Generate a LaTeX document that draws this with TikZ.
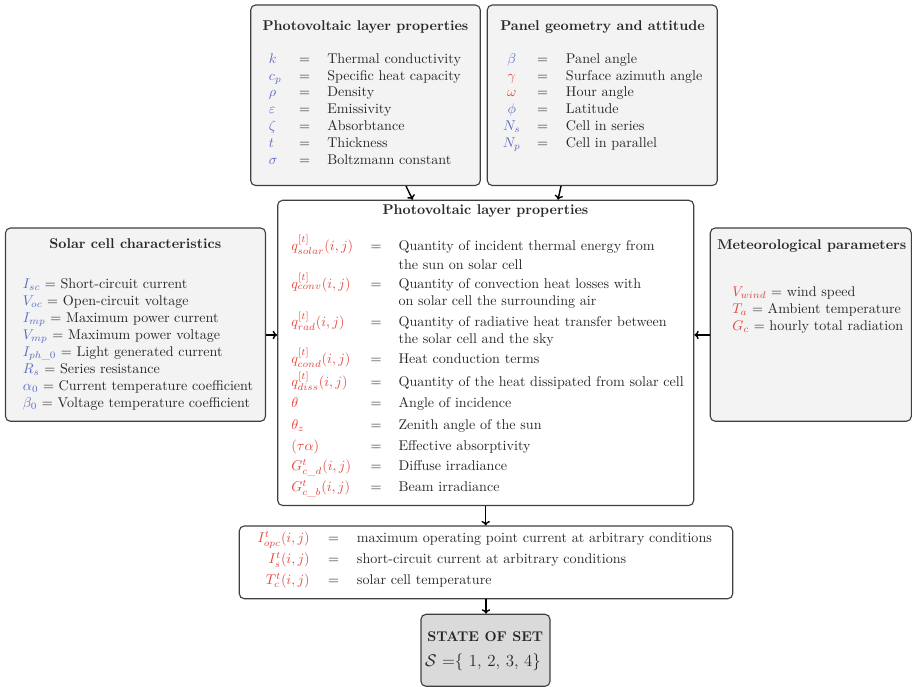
\documentclass[tikz,border=0pt]{standalone}
\usepackage{amsmath}
\usetikzlibrary{fit,arrows.meta}
\definecolor{symblue}{RGB}{92,108,196}
\definecolor{symred}{RGB}{230,70,62}
\definecolor{boxfill}{RGB}{243,243,243}
\definecolor{statefill}{RGB}{218,218,218}
\definecolor{boxline}{RGB}{64,64,64}
\definecolor{txt}{RGB}{40,40,40}
\newcommand{\bsym}[1]{\textcolor{symblue}{$#1$}}
\newcommand{\rsym}[1]{\textcolor{symred}{$#1$}}
\newcommand{\usc}{\text{\_}}
\tikzset{
  box/.style={draw=boxline, line width=0.8pt, rounded corners=3.5pt, inner sep=0pt},
  graybox/.style={box, fill=boxfill},
  whitebox/.style={box, fill=white},
  statebox/.style={box, fill=statefill},
  ttl/.style={font=\bfseries, anchor=base, inner sep=0pt, text=txt},
  lbl/.style={anchor=base west, inner sep=0pt, text=txt},
  lblr/.style={anchor=base east, inner sep=0pt, text=txt},
  lblc/.style={anchor=base, inner sep=0pt, text=txt},
  arr/.style={-{To[length=3.2pt,width=6pt]}, line width=1pt, black}
}
\begin{document}
\begin{tikzpicture}[x=0.709pt,y=-0.709pt]
\useasboundingbox (0,0) rectangle (912,687);

% boxes
\node[graybox, fit={(250.7,5) (480.3,185.5)}] (tl) {};
\node[graybox, fit={(487.3,5) (717.3,185.5)}] (tr) {};
\node[whitebox, fit={(277.7,200.3) (693.7,505.5)}] (ctr) {};
\node[graybox, fit={(5.5,228) (265.5,421.3)}] (lb) {};
\node[graybox, fit={(710.3,228) (911.3,421.3)}] (rb) {};
\node[whitebox, fit={(239.3,526) (732.7,598.7)}] (bot) {};
\node[statebox, fit={(421,614.3) (550,686.3)}] (st) {};

% titles
\node[ttl] (tlT) at (365.5,30.7) {Photovoltaic layer properties};
\node[ttl] (trT) at (602.5,30.7) {Panel geometry and attitude};
\node[ttl] (ctrT) at (485.5,214.3) {Photovoltaic layer properties};
\node[ttl] (lbT) at (135.3,248.7) {Solar cell characteristics};
\node[ttl] (rbT) at (811.8,249.3) {Meteorological parameters};

% top-left rows
\foreach \s/\t [count=\i] in {
  {\bsym{k}}/Thermal conductivity,
  {\bsym{c_p}}/Specific heat capacity,
  {\bsym{\rho}}/Density,
  {\bsym{\varepsilon}}/Emissivity,
  {\bsym{\zeta}}/Absorbtance,
  {\bsym{t}}/Thickness,
  {\bsym{\sigma}}/Boltzmann constant}{
  \node[lbl] (tls\i) at (268.7,{63.3+16.83*(\i-1)}) {\s};
  \node[lblc] (tle\i) at (304.7,{63.3+16.83*(\i-1)}) {$=$};
  \node[lbl] (tlt\i) at (327,{63.3+16.83*(\i-1)}) {\t};
}

% top-right rows
\foreach \s/\t [count=\i] in {
  {\bsym{\beta}}/Panel angle,
  {\rsym{\gamma}}/Surface azimuth angle,
  {\rsym{\omega}}/Hour angle,
  {\bsym{\phi}}/Latitude,
  {\bsym{N_s}}/Cell in series,
  {\bsym{N_p}}/Cell in parallel}{
  \node[lblc] (trs\i) at (511.7,{63.3+16.83*(\i-1)}) {\s};
  \node[lblc] (tre\i) at (542.7,{63.3+16.83*(\i-1)}) {$=$};
  \node[lbl] (trt\i) at (565.7,{63.3+16.83*(\i-1)}) {\t};
}

% center rows
\foreach \s/\t/\y [count=\i] in {
  {\rsym{q^{[t]}_{solar}(i,j)}}/Quantity of incident thermal energy from/250.3,
  {\rsym{q^{[t]}_{conv}(i,j)}}/Quantity of convection heat losses with/288.3,
  {\rsym{q^{[t]}_{rad}(i,j)}}/Quantity of radiative heat transfer between/326.7,
  {\rsym{q^{[t]}_{cond}(i,j)}}/Heat conduction terms/363.3,
  {\rsym{q^{[t]}_{diss}(i,j)}}/Quantity of the heat dissipated from solar cell/386.7,
  {\rsym{\theta}}/Angle of incidence/407.3,
  {\rsym{\theta_z}}/Zenith angle of the sun/429,
  {\rsym{(\tau\alpha)}}/Effective absorptivity/450,
  {\rsym{G^t_{c\usc d}(i,j)}}/Diffuse irradiance/470.7,
  {\rsym{G^t_{c\usc b}(i,j)}}/Beam irradiance/491.7}{
  \node[lbl] (cs\i) at (291,\y) {\s};
  \node[lblc] (ce\i) at (376,\y) {$=$};
  \node[lbl] (ct\i) at (398.3,\y) {\t};
}
\node[lbl] (ct1b) at (398.3,270) {the sun on solar cell};
\node[lbl] (ct2b) at (398.3,305) {on solar cell the surrounding air};
\node[lbl] (ct3b) at (398.3,343.3) {the solar cell and the sky};

% left box rows
\foreach \t [count=\i] in {
  {\bsym{I_{sc}} $=$ Short-circuit current},
  {\bsym{V_{oc}} $=$ Open-circuit voltage},
  {\bsym{I_{mp}} $=$ Maximum power current},
  {\bsym{V_{mp}} $=$ Maximum power voltage},
  {\bsym{I_{ph\usc 0}} $=$ Light generated current},
  {\bsym{R_s} $=$ Series resistance},
  {\bsym{\alpha_0} $=$ Current temperature coefficient},
  {\bsym{\beta_0} $=$ Voltage temperature coefficient}}{
  \node[lbl] (lr\i) at (22.7,{288+17*(\i-1)}) {\t};
}

% right box rows
\foreach \t [count=\i] in {
  {\rsym{V_{wind}} $=$ wind speed},
  {\rsym{T_a} $=$ Ambient temperature},
  {\rsym{G_c} $=$ hourly total radiation}}{
  \node[lbl] (rr\i) at (732,{296+17*(\i-1)}) {\t};
}

% bottom box rows
\foreach \s/\t [count=\i] in {
  {\rsym{I^t_{opc}(i,j)}}/maximum operating point current at arbitrary conditions,
  {\rsym{I^t_{s}(i,j)}}/short-circuit current at arbitrary conditions,
  {\rsym{T^t_{c}(i,j)}}/solar cell temperature}{
  \node[lblr] (bs\i) at (310,{542.7+20.85*(\i-1)}) {\s};
  \node[lblc] (be\i) at (333.7,{542.7+20.85*(\i-1)}) {$=$};
  \node[lbl] (bt\i) at (356.7,{542.7+20.85*(\i-1)}) {\t};
}

% state box
\node[ttl] (st1) at (485.3,641) {STATE OF SET};
\node[lblc, font=\large] (st2) at (483,666.7) {$\mathcal{S}$ =\{ 1, 2, 3, 4\}};

% connectors
\draw[arr] ([shift={(40.5,0)}]tl.south) -- ([shift={(-73,0)}]ctr.north);
\draw[arr] ([shift={(-41.3,0)}]tr.south) -- ([shift={(72.3,0)}]ctr.north);
\coordinate (la) at ([shift={(0,10.3)}]lb.east);
\coordinate (ra) at ([shift={(0,10.3)}]rb.west);
\draw[arr] (la) -- (la -| ctr.west);
\draw[arr] (ra) -- (ra -| ctr.east);
\draw[arr] (ctr.south) -- (ctr.south |- bot.north);
\draw[arr] (bot.south) -- (bot.south |- st.north);
\end{tikzpicture}
\end{document}
